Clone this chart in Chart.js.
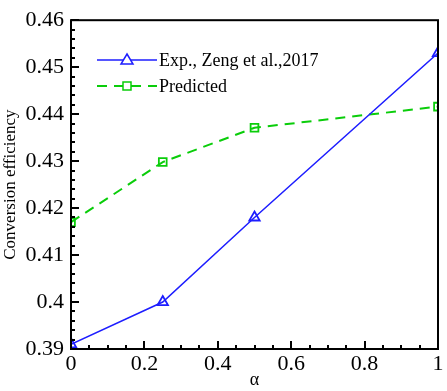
<!DOCTYPE html>
<html>
<head>
<meta charset="utf-8">
<script src="https://cdn.jsdelivr.net/npm/chart.js@4"></script>
<style>
  html, body { margin: 0; padding: 0; background: #fff; }
  #wrap { width: 447px; height: 391px; }
</style>
</head>
<body>
<div id="wrap"><canvas id="chart_conversion"></canvas></div>
<script>
const alphaValues = [0, 0.25, 0.5, 1];
const expValues = [0.391, 0.400, 0.418, 0.453];
const predictedValues = [0.4170, 0.4298, 0.4371, 0.4416];
const xTickValues = [0, 0.2, 0.4, 0.6, 0.8, 1];
const yTickValues = [0.39, 0.40, 0.41, 0.42, 0.43, 0.44, 0.45, 0.46];

const FONT = '"Liberation Serif", "Times New Roman", serif';

function toPoints(xs, ys) {
    return xs.map(function (x, i) { return { x: x, y: ys[i] }; });
}

// box, inward ticks and the legend inside the plot
const framePlugin = {
    id: 'frame',
    afterDatasetsDraw(chart) {
        const ctx = chart.ctx;
        const a = chart.chartArea;
        const xs = chart.scales.x;
        const ys = chart.scales.y;
        ctx.save();
        ctx.setLineDash([]);
        ctx.strokeStyle = '#000000';
        ctx.lineWidth = 2;
        ctx.beginPath();
        // ticks x (every 0.05, major every 0.2)
        for (let k = 0; k <= 20; k++) {
            const px = Math.round(xs.getPixelForValue(k * 0.05));
            const len = k % 4 === 0 ? 8 : 4;
            ctx.moveTo(px, a.bottom);
            ctx.lineTo(px, a.bottom - len);
        }
        // ticks y (every 0.002, major every 0.01)
        for (let k = 0; k <= 35; k++) {
            const py = Math.round(ys.getPixelForValue(0.39 + k * 0.002));
            const len = k % 5 === 0 ? 8 : 4;
            ctx.moveTo(a.left, py);
            ctx.lineTo(a.left + len, py);
        }
        ctx.stroke();
        // frame
        ctx.strokeRect(a.left, a.top, a.right - a.left, a.bottom - a.top);

        // legend
        const items = chart.data.datasets;
        const lx = 97, lw = 60;
        items.forEach(function (ds, i) {
            const ly = 60 + i * 26;
            ctx.strokeStyle = ds.borderColor;
            ctx.lineWidth = ds.borderWidth;
            ctx.setLineDash(ds.borderDash || []);
            ctx.beginPath();
            ctx.moveTo(lx, ly);
            ctx.lineTo(lx + lw, ly);
            ctx.stroke();
            ctx.setLineDash([]);
            ctx.lineWidth = 1.5;
            const cx = lx + lw / 2;
            ctx.fillStyle = '#fff';
            if (ds.pointStyle === 'triangle') {
                ctx.beginPath();
                ctx.moveTo(cx, ly - 6);
                ctx.lineTo(cx + 6, ly + 4);
                ctx.lineTo(cx - 6, ly + 4);
                ctx.closePath();
                ctx.fill();
                ctx.stroke();
            } else {
                ctx.fillRect(cx - 4, ly - 4, 8, 8);
                ctx.strokeRect(cx - 4, ly - 4, 8, 8);
            }
            ctx.fillStyle = '#000';
            ctx.font = '18px ' + FONT;
            ctx.textBaseline = 'middle';
            ctx.textAlign = 'left';
            ctx.fillText(ds.label, lx + lw + 2, ly + 1);
        });
        ctx.restore();
    },
};

new Chart(document.getElementById('chart_conversion'), {
    type: 'line',
    data: {
        datasets: [
            {
                label: 'Exp., Zeng et al.,2017',
                data: toPoints(alphaValues, expValues),
                borderColor: 'rgb(30,30,255)',
                backgroundColor: 'rgba(255,255,255,0)',
                borderWidth: 1.5,
                pointStyle: 'triangle',
                pointRadius: 6,
                pointBorderWidth: 1.8,
                tension: 0,
                fill: false,
            },
            {
                label: 'Predicted',
                data: toPoints(alphaValues, predictedValues),
                borderColor: 'rgb(10,205,10)',
                backgroundColor: 'rgba(255,255,255,0)',
                borderWidth: 2,
                borderDash: [10, 7],
                pointStyle: 'rect',
                pointRadius: 5.5,
                pointBorderWidth: 1.8,
                tension: 0,
                fill: false,
            },
        ],
    },
    options: {
        responsive: true,
        maintainAspectRatio: false,
        animation: false,
        layout: { padding: { top: 12, right: 9, left: 0, bottom: 0 } },
        plugins: {
            legend: { display: false },
            tooltip: { enabled: false },
        },
        scales: {
            x: {
                type: 'linear',
                min: 0,
                max: 1,
                afterFit(scale) { scale.height = 42; },
                afterBuildTicks(scale) { scale.ticks = xTickValues.map(function (v) { return { value: v }; }); },
                grid: { display: false, drawTicks: false },
                border: { display: false },
                ticks: {
                    color: '#000',
                    font: { family: FONT, size: 22 },
                    padding: 2,
                    maxRotation: 0,
                    callback: function (v) { return String(Math.round(v * 10) / 10); },
                },
                title: {
                    display: true,
                    text: 'α',
                    color: '#000',
                    font: { family: FONT, size: 18 },
                    padding: { top: -6, bottom: 0 },
                },
            },
            y: {
                type: 'linear',
                min: 0.39,
                max: 0.46,
                afterFit(scale) { scale.width = 71; },
                afterBuildTicks(scale) { scale.ticks = yTickValues.map(function (v) { return { value: v }; }); },
                grid: { display: false, drawTicks: false },
                border: { display: false },
                ticks: {
                    color: '#000',
                    font: { family: FONT, size: 22 },
                    padding: 7,
                    callback: function (v) { return String(Math.round(v * 100) / 100); },
                },
                title: {
                    display: true,
                    text: 'Conversion efficiency',
                    color: '#000',
                    font: { family: FONT, size: 17 },
                    padding: { top: 0, bottom: 0 },
                },
            },
        },
    },
    plugins: [framePlugin],
});
</script>
</body>
</html>
